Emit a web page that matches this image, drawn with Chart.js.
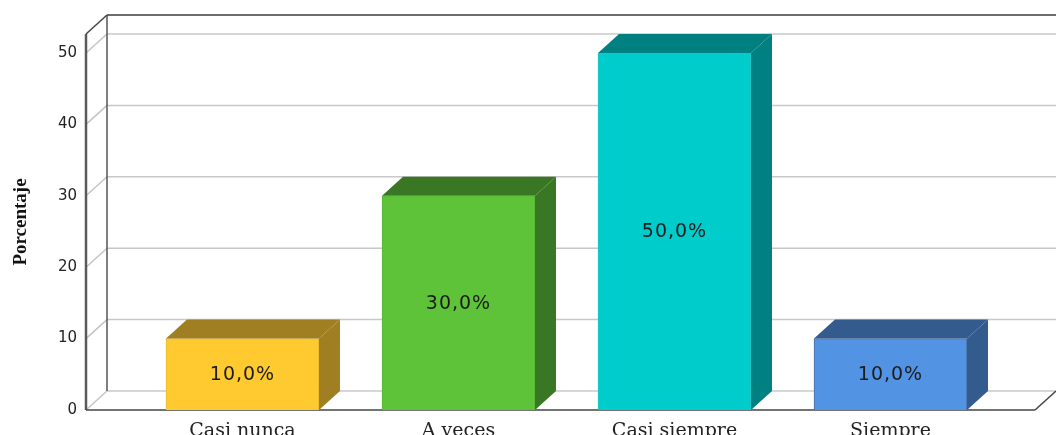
<!DOCTYPE html>
<html>
<head>
  <meta charset="utf-8">
  <title>Porcentaje</title>
  <script src="https://cdnjs.cloudflare.com/ajax/libs/Chart.js/4.4.0/chart.umd.min.js"></script>
  <style>
    body { margin: 0; background: #fff; overflow: hidden; }
    canvas { display: block; }
  </style>
</head>
<body>
  <canvas id="myChart" width="1056" height="435"></canvas>
  <script>
    const categories = ['Casi nunca', 'A veces', 'Casi siempre', 'Siempre'];
    const values = [10, 30, 50, 10];
    const yTicks = [0, 10, 20, 30, 40, 50];
    const frontColors = ['#ffca2f', '#5fc339', '#00cccc', '#5393e3'];
    const darkColors = ['#9f7f22', '#3a7725', '#008080', '#345b8e'];
    const edgeColors = ['#e8b92c', '#58b536', '#25c4c4', '#4a6f9f'];

    // profundidad del efecto 3D
    const depthX = 21;
    const depthY = 19;

    function line(ctx, x1, y1, x2, y2, color, width) {
      ctx.strokeStyle = color;
      ctx.lineWidth = width;
      ctx.beginPath();
      ctx.moveTo(x1, y1);
      ctx.lineTo(x2, y2);
      ctx.stroke();
    }

    // paredes y lineas de la caja 3D
    const wallsPlugin = {
      id: 'walls',
      beforeDatasetsDraw(chart) {
        const ctx = chart.ctx;
        const a = chart.chartArea;
        const y = chart.scales.y;
        ctx.save();
        yTicks.forEach(function (t) {
          const py = y.getPixelForValue(t);
          line(ctx, a.left, py, a.left + depthX, py - depthY, '#c4c4c4', 1.5);
          line(ctx, a.left + depthX, py - depthY, a.right + depthX, py - depthY, '#c8c8c8', 1.5);
        });
        line(ctx, a.left + depthX, a.top - depthY, a.left + depthX, a.bottom - depthY, '#555555', 1.5);
        line(ctx, a.left + depthX, a.top - depthY, a.right + depthX, a.top - depthY, '#3c3c3c', 1.5);
        line(ctx, a.left, a.top, a.left + depthX, a.top - depthY, '#444444', 1.5);
        line(ctx, a.left, a.top, a.left, a.bottom, '#5a5a5a', 2.5);
        line(ctx, a.left, a.bottom, a.right, a.bottom, '#444444', 1.5);
        line(ctx, a.right, a.bottom, a.right + depthX, a.bottom - depthY, '#444444', 1.5);
        ctx.restore();
      },
      afterDatasetsDraw(chart) {
        const ctx = chart.ctx;
        ctx.save();
        chart.getDatasetMeta(0).data.forEach(function (bar, i) {
          const l = bar.x - bar.width / 2;
          const r = bar.x + bar.width / 2;
          ctx.fillStyle = darkColors[i];
          // cara superior
          ctx.beginPath();
          ctx.moveTo(l, bar.y);
          ctx.lineTo(l + depthX, bar.y - depthY);
          ctx.lineTo(r + depthX, bar.y - depthY);
          ctx.lineTo(r, bar.y);
          ctx.closePath();
          ctx.fill();
          // cara lateral
          ctx.beginPath();
          ctx.moveTo(r, bar.y);
          ctx.lineTo(r + depthX, bar.y - depthY);
          ctx.lineTo(r + depthX, bar.base - depthY);
          ctx.lineTo(r, bar.base);
          ctx.closePath();
          ctx.fill();
          // etiqueta
          ctx.fillStyle = '#1c1c1c';
          ctx.font = '19px "DejaVu Sans"';
          ctx.letterSpacing = '1px';
          ctx.textAlign = 'center';
          ctx.textBaseline = 'middle';
          ctx.fillText(values[i].toFixed(1).replace('.', ',') + '%', bar.x, (bar.y + bar.base) / 2 + 1);
        });
        ctx.restore();
      }
    };

    const ctx = document.getElementById('myChart').getContext('2d');
    new Chart(ctx, {
      type: 'bar',
      data: {
        datasets: [{
          data: categories.map(function (c, i) { return { x: i, y: values[i] }; }),
          backgroundColor: frontColors,
          borderColor: edgeColors,
          borderWidth: 1,
          barThickness: 153
        }]
      },
      options: {
        responsive: false,
        animation: false,
        layout: { padding: { top: 34, right: 21, left: 0, bottom: 0 } },
        plugins: { legend: { display: false }, tooltip: { enabled: false } },
        scales: {
          x: {
            type: 'linear',
            offset: false,
            min: -0.7245,
            max: 3.669,
            grid: { display: false, drawTicks: false },
            border: { display: false },
            afterBuildTicks(scale) {
              scale.ticks = categories.map(function (c, i) { return { value: i }; });
            },
            afterFit(scale) { scale.height = 25; },
            ticks: {
              autoSkip: false,
              maxRotation: 0,
              padding: 10,
              color: '#222222',
              font: { family: 'DejaVu Serif', size: 19 },
              callback(v) { return categories[v]; }
            }
          },
          y: {
            min: 0,
            max: 52.66,
            grid: { display: false, drawTicks: false },
            border: { display: false },
            afterBuildTicks(scale) {
              scale.ticks = yTicks.map(function (v) { return { value: v }; });
            },
            afterFit(scale) { scale.width = 86; },
            ticks: {
              padding: 9,
              color: '#222222',
              font: { family: 'DejaVu Sans', size: 15 }
            },
            title: {
              display: true,
              text: 'Porcentaje',
              color: '#111111',
              padding: { top: 10, bottom: 0 },
              font: { family: 'Liberation Serif', weight: 'bold', size: 19 }
            }
          }
        }
      },
      plugins: [wallsPlugin]
    });
  </script>
</body>
</html>
